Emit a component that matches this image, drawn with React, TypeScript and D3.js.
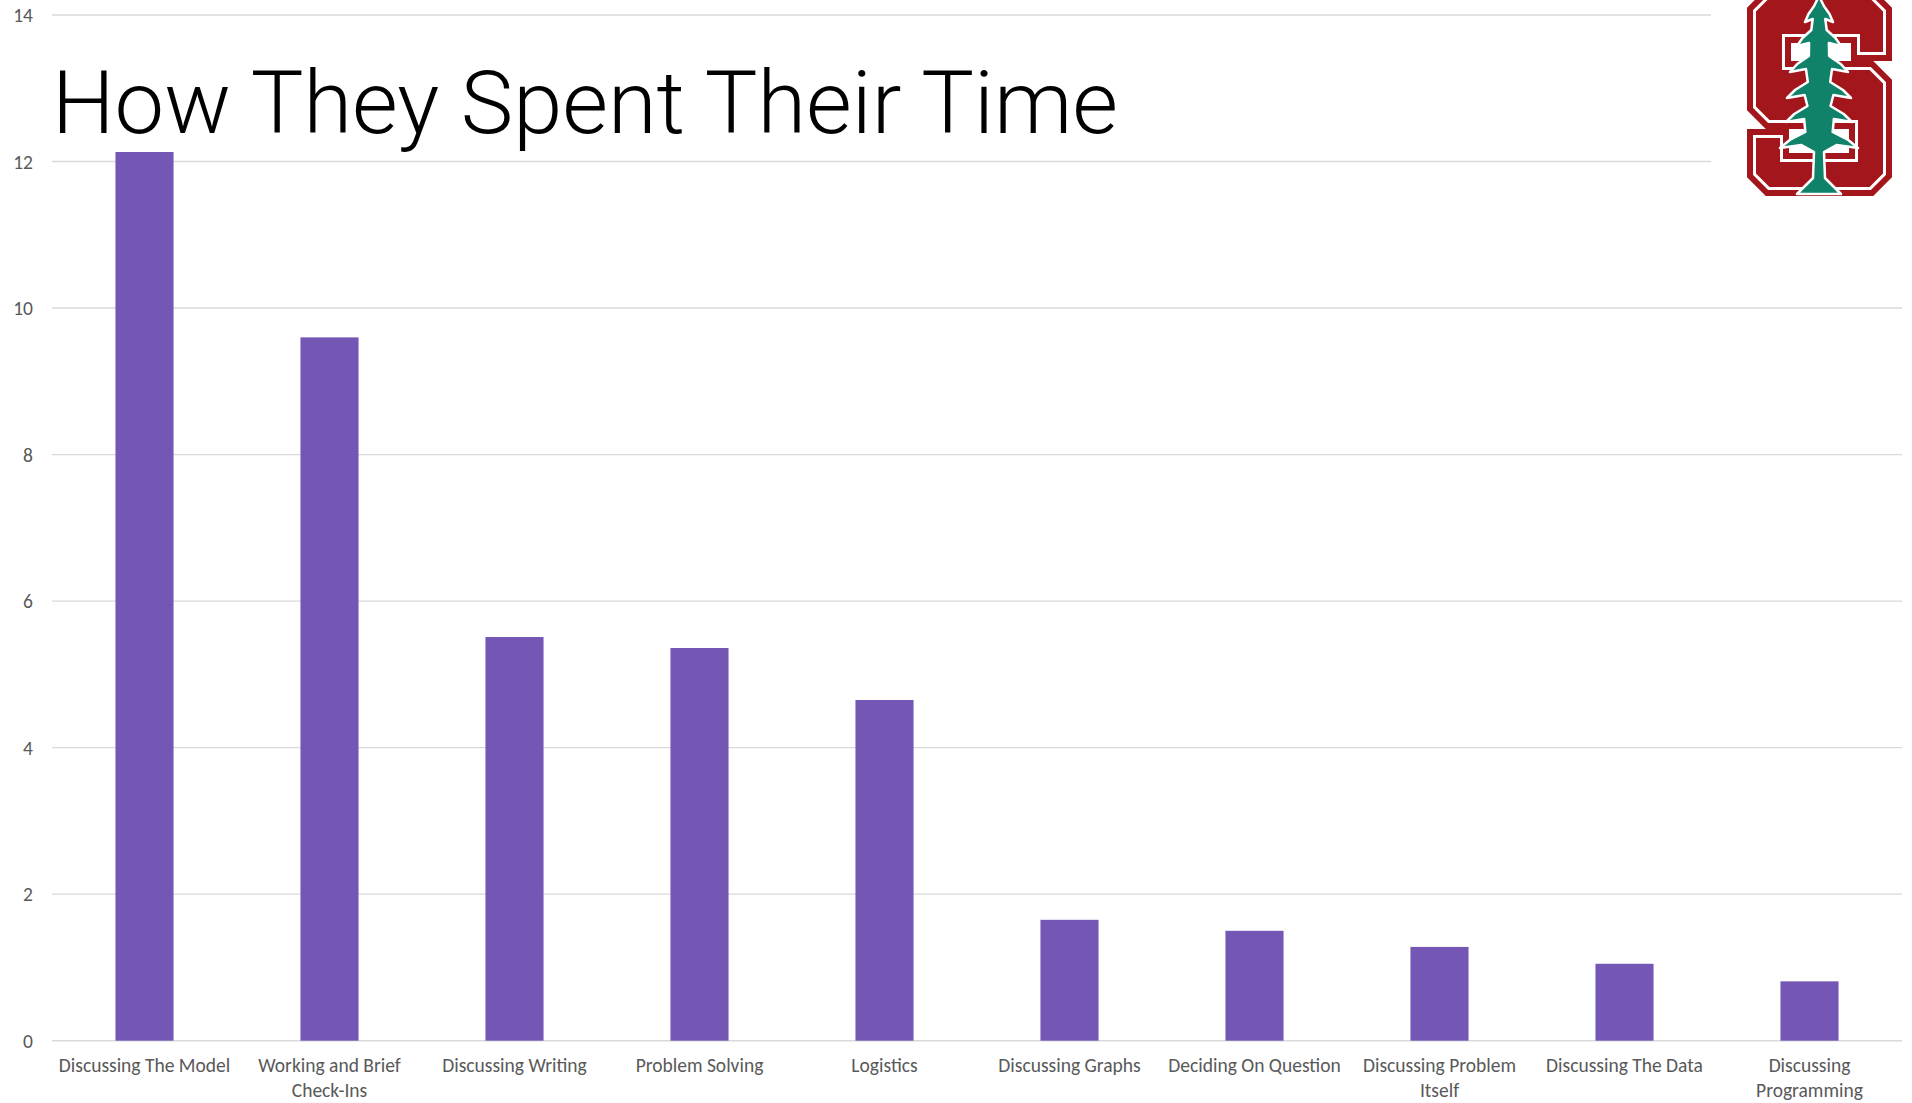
import React, { useEffect } from "react";
import * as d3 from "d3";

const categories: string[] = [
  "Discussing The Model",
  "Working and Brief\nCheck-Ins",
  "Discussing Writing",
  "Problem Solving",
  "Logistics",
  "Discussing Graphs",
  "Deciding On Question",
  "Discussing Problem\nItself",
  "Discussing The Data",
  "Discussing\nProgramming",
];
const values: number[] = [12.13, 9.6, 5.51, 5.36, 4.65, 1.65, 1.5, 1.28, 1.05, 0.81];
const yTicks: number[] = [0, 2, 4, 6, 8, 10, 12, 14];
const title = "How They Spent Their Time";

const W = 1912;
const H = 1103;
const plotLeft = 52;
const plotRight = 1902;
const plotTop = 15;
const plotBottom = 1040.7;

const BAR = "#7457B5";
const GRID = "#D9D9D9";
const LABEL = "#595959";
const RED = "#A3161C";
const GREEN = "#11826A";

const LABEL_FONT = "Carlito, Calibri, Lato, sans-serif";

function StanfordLogo() {
  const ox = 1750;
  const sPts: [number, number][] = [
    [17, -8], [122, -8], [139, 9], [139, 58], [104, 58], [104, 40], [38, 40], [38, 64],
    [122, 64], [139, 81], [139, 176], [122, 193], [17, 193], [0, 176], [0, 132], [36, 132],
    [36, 156], [102, 156], [102, 126], [17, 126], [0, 109], [0, 9],
  ];
  const sPath = "M" + sPts.map(([x, y]) => `${x + ox},${y}`).join("L") + "Z";

  const cx = 1819;
  const tiers: [number, number][] = [
    [20, 14], [44, 22], [70, 29], [96, 32], [120, 33], [146, 39],
  ];
  const left: [number, number][] = [[cx, -4]];
  tiers.forEach(([y, w]) => {
    left.push([cx - w * 0.35, y - 14]);
    left.push([cx - w * 0.75, y - 6]);
    left.push([cx - w, y + 2]);
    left.push([cx - w * 0.45, y - 1]);
  });
  left.push([cx - 5, 152]);
  left.push([cx - 6, 178]);
  left.push([cx - 22, 194]);
  const right = left.slice(1).map(([x, y]) => [2 * cx - x, y] as [number, number]).reverse();
  const treePts = left.concat(right);
  const treePath = d3.line()(treePts) + "Z";

  return (
    <g>
      <rect x={1711} y={0} width={201} height={202} fill="#ffffff" />
      <path d={sPath} fill={RED} />
      <path d={sPath} fill="none" stroke="#ffffff" strokeWidth={12} strokeLinejoin="miter" />
      <path d={sPath} fill="none" stroke={RED} strokeWidth={6} strokeLinejoin="miter" />
      <path d={treePath} fill={GREEN} stroke="#ffffff" strokeWidth={2.5} strokeLinejoin="round" />
    </g>
  );
}

export default function App() {
  useEffect(() => {
    document.body.style.margin = "0";
    document.body.style.overflow = "hidden";
  }, []);

  const x = d3
    .scaleBand<string>()
    .domain(categories)
    .range([plotLeft, plotRight])
    .paddingInner(0.686)
    .paddingOuter(0.343);
  const y = d3.scaleLinear().domain([0, 14]).range([plotBottom, plotTop]);

  return (
    <svg width={W} height={H} style={{ display: "block", background: "#fff" }}>
      <rect x={0} y={0} width={W} height={H} fill="#ffffff" />
      {yTicks.map((t) => (
        <g key={t}>
          <line x1={plotLeft} x2={plotRight} y1={y(t)} y2={y(t)} stroke={GRID} strokeWidth={1.4} />
          <text
            x={33}
            y={y(t)}
            dy="0.36em"
            textAnchor="end"
            fontFamily={LABEL_FONT}
            fontSize={19.5}
            fill={LABEL}
          >
            {t}
          </text>
        </g>
      ))}
      {categories.map((c, i) => (
        <rect
          key={c}
          x={x(c)!}
          y={y(values[i])}
          width={x.bandwidth()}
          height={y(0) - y(values[i])}
          fill={BAR}
        />
      ))}
      {categories.map((c) => {
        const lines = c.split("\n");
        const cxp = x(c)! + x.bandwidth() / 2;
        return (
          <text
            key={"l" + c}
            x={cxp}
            y={1072}
            textAnchor="middle"
            fontFamily={LABEL_FONT}
            fontSize={19.5}
            fill={LABEL}
          >
            {lines.map((ln, k) => (
              <tspan key={k} x={cxp} dy={k === 0 ? 0 : 24.5}>
                {ln}
              </tspan>
            ))}
          </text>
        );
      })}
      <text
        x={52}
        y={133}
        fontFamily="'Calibri Light', Roboto, Lato, sans-serif"
        fontWeight={300}
        fontSize={88}
        fill="#000000"
        textLength={1066}
        lengthAdjust="spacingAndGlyphs"
      >
        {title}
      </text>
      <StanfordLogo />
    </svg>
  );
}
